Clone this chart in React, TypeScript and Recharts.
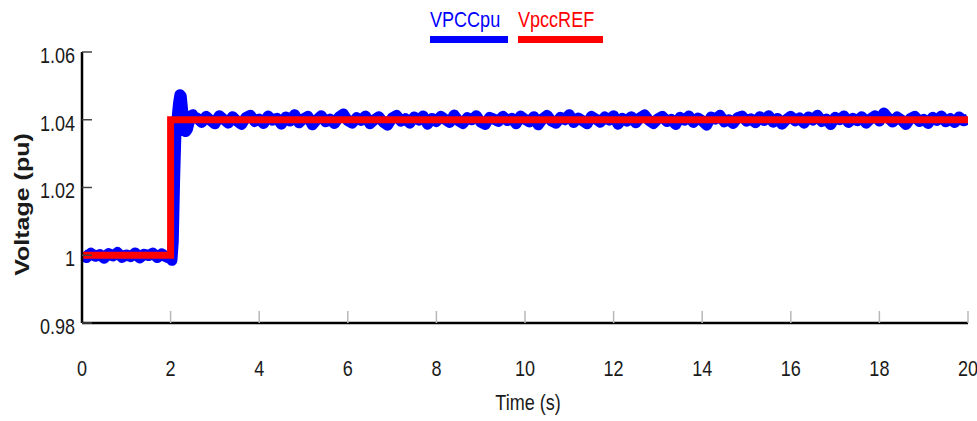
import React from "react"
import { LineChart, Line, XAxis, YAxis, Label } from "recharts"

// reference setpoint (step at t = 2 s)
const refTime = [0, 2, 2, 20]
const refValue = [1.0, 1.0, 1.04, 1.04]

// measured PCC voltage, sampled every 0.1 s before the step (0 .. 2.0 s)
const preStepValue = [
  1.0004, 0.9993, 1.0006, 0.9997, 1.0002, 0.9991, 1.0005, 0.9998, 1.0008, 0.9994,
  1.0001, 0.9996, 1.0007, 0.9992, 1.0003, 0.9999, 1.0006, 0.9993, 1.0004, 0.9995,
  0.999,
]

// transient right after the step
const stepTime = [2.03, 2.06, 2.09, 2.12, 2.15, 2.18, 2.21, 2.24, 2.27, 2.3, 2.34, 2.38, 2.42, 2.46, 2.5, 2.55]
const stepValue = [
  0.9985, 1.004, 1.022, 1.036, 1.041, 1.045, 1.0474, 1.047, 1.043, 1.039, 1.0365, 1.0372, 1.0393, 1.0412,
  1.0415, 1.0405,
]

// steady state, every 0.1 s from 2.6 .. 20.0 s
const postStepValue = [
  1.0405, 1.0392, 1.041, 1.0398, 1.0388, 1.0412, 1.0401, 1.039, 1.0409, 1.0396,
  1.0386, 1.0407, 1.0413, 1.0395, 1.0402, 1.0389, 1.0411, 1.0399, 1.0404, 1.0387,
  1.0408, 1.0396, 1.0415, 1.0391, 1.0403, 1.041, 1.0385, 1.04, 1.0412, 1.0394,
  1.0402, 1.0389, 1.0408, 1.0417, 1.0397, 1.039, 1.0406, 1.0398, 1.0411, 1.0388,
  1.04, 1.0409, 1.0393, 1.0384, 1.0405, 1.0413, 1.0396, 1.0403, 1.039, 1.0408,
  1.0399, 1.0411, 1.0387, 1.0404, 1.0395, 1.041, 1.0401, 1.0392, 1.0414, 1.0397,
  1.0389, 1.0406, 1.04, 1.0412, 1.0393, 1.0386, 1.0407, 1.0402, 1.0395, 1.041,
  1.0398, 1.0404, 1.0388, 1.0411, 1.0401, 1.0394, 1.0409, 1.0385, 1.0403, 1.0413,
  1.0396, 1.039, 1.0407, 1.04, 1.0415, 1.0392, 1.0405, 1.0397, 1.0388, 1.041,
  1.0402, 1.0393, 1.0408, 1.0399, 1.0412, 1.0387, 1.0404, 1.0396, 1.0409, 1.0391,
  1.0406, 1.0414, 1.0398, 1.0389, 1.0403, 1.041, 1.0395, 1.0401, 1.0386, 1.0407,
  1.0399, 1.0411, 1.0392, 1.0405, 1.0397, 1.0384, 1.0408, 1.0402, 1.0413, 1.0394,
  1.04, 1.0389, 1.0406, 1.0411, 1.0396, 1.0403, 1.0391, 1.0409, 1.0398, 1.0412,
  1.0393, 1.0404, 1.0387, 1.0401, 1.041, 1.0397, 1.0405, 1.039, 1.0408, 1.0399,
  1.0413, 1.0395, 1.0402, 1.0386, 1.0407, 1.04, 1.0411, 1.0392, 1.0404, 1.0397,
  1.0409, 1.039, 1.0403, 1.0412, 1.0396, 1.042, 1.0405, 1.0393, 1.0408, 1.0399,
  1.0386, 1.0404, 1.041, 1.0395, 1.0401, 1.0389, 1.0407, 1.0398, 1.0411, 1.0394,
  1.0403, 1.0392, 1.0408, 1.0397, 1.0402,
]

const xTicks = [0, 2, 4, 6, 8, 10, 12, 14, 16, 18, 20]
const yTicks = [0.98, 1.0, 1.02, 1.04, 1.06]

const BLUE = "#0000ff"
const RED = "#ff0000"
const FONT = "'Liberation Sans', Arial, sans-serif"
const SQUEEZE = 0.82

const sampleStep = 0.1
const round = (v: number) => Math.round(v * 1000) / 1000

const refData = refTime.map((t, i) => ({ t, v: refValue[i] }))
const measData = [
  ...preStepValue.map((v, i) => ({ t: round(i * sampleStep), v })),
  ...stepTime.map((t, i) => ({ t, v: stepValue[i] })),
  ...postStepValue.map((v, i) => ({ t: round(2.6 + i * sampleStep), v })),
]

const legendItems = [
  { name: "VPCCpu", color: BLUE, width: 78 },
  { name: "VpccREF", color: RED, width: 85 },
]

const fmtY = (v: number) => String(Number(v.toFixed(2)))

// narrow tick labels (the original uses a condensed face)
const XTick = (props: any) => {
  const { x, y, payload } = props
  return (
    <text
      transform={`translate(${x},${y}) scale(${SQUEEZE},1)`}
      textAnchor="middle"
      dy="0.71em"
      fill="#1a1a1a"
      fontSize={22}
      fontFamily={FONT}
    >
      {payload.value}
    </text>
  )
}

const YTick = (props: any) => {
  const { x, y, payload } = props
  return (
    <text
      transform={`translate(${x},${y + 3}) scale(${SQUEEZE},1)`}
      textAnchor="end"
      dy="0.355em"
      fill="#1a1a1a"
      fontSize={22}
      fontFamily={FONT}
    >
      {fmtY(payload.value)}
    </text>
  )
}

export default function App() {
  return (
    <div style={{ position: "absolute", left: 0, top: 0, width: 977, height: 421, background: "#fff" }}>
      <div style={{ position: "absolute", left: 430, top: 8, display: "flex", gap: 10 }}>
        {legendItems.map((it) => (
          <div key={it.name} style={{ width: it.width }}>
            <div
              style={{
                color: it.color,
                fontFamily: FONT,
                fontSize: 22,
                lineHeight: "24px",
                whiteSpace: "nowrap",
                transform: `scaleX(${SQUEEZE})`,
                transformOrigin: "left center",
              }}
            >
              {it.name}
            </div>
            <div style={{ background: it.color, height: 7, marginTop: 4 }} />
          </div>
        ))}
      </div>
      <LineChart width={977} height={421} margin={{ top: 52, right: 9, bottom: 0, left: 0 }}>
        <XAxis
          dataKey="t"
          type="number"
          domain={[0, 20]}
          ticks={xTicks}
          height={98}
          axisLine={{ stroke: "#000", strokeWidth: 2.5 }}
          tickLine={{ stroke: "#b8b8b8", strokeWidth: 1.5 }}
          tickSize={-12}
          tickMargin={49}
          tick={<XTick />}
          allowDataOverflow
        >
          <Label
            content={(props: any) => {
              const vb = props.viewBox
              return (
                <text
                  transform={`translate(${vb.x + vb.width / 2 + 3},410) scale(${SQUEEZE},1)`}
                  textAnchor="middle"
                  fill="#1a1a1a"
                  fontSize={22}
                  fontFamily={FONT}
                >
                  Time (s)
                </text>
              )
            }}
          />
        </XAxis>
        <YAxis
          type="number"
          domain={[0.98, 1.06]}
          ticks={yTicks}
          width={82}
          axisLine={{ stroke: "#000", strokeWidth: 2.5 }}
          tickLine={{ stroke: "#444", strokeWidth: 1.5 }}
          tickSize={-10}
          tickMargin={17}
          tick={<YTick />}
          allowDataOverflow
        >
          <Label
            content={(props: any) => {
              const vb = props.viewBox
              const cy = vb.y + vb.height / 2 + 17
              return (
                <text
                  transform={`translate(22, ${cy}) rotate(-90) scale(1, 0.8)`}
                  textAnchor="middle"
                  dominantBaseline="central"
                  fill="#1a1a1a"
                  fontSize={25}
                  fontWeight="bold"
                  fontFamily={FONT}
                >
                  Voltage (pu)
                </text>
              )
            }}
          />
        </YAxis>
        <Line
          data={measData}
          dataKey="v"
          type="linear"
          stroke={BLUE}
          strokeWidth={11}
          strokeLinejoin="round"
          dot={false}
          isAnimationActive={false}
        />
        <Line
          data={refData}
          dataKey="v"
          type="linear"
          stroke={RED}
          strokeWidth={7}
          strokeLinejoin="miter"
          dot={false}
          isAnimationActive={false}
        />
      </LineChart>
    </div>
  )
}
